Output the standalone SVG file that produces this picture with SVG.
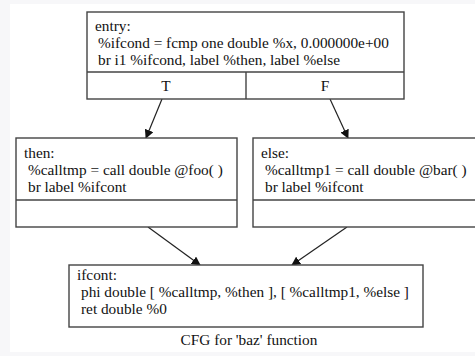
<svg xmlns="http://www.w3.org/2000/svg" width="475" height="356" viewBox="0 0 475 356">
  <style>
    .box { fill: #ffffff; stroke: #444444; stroke-width: 1.4; }
    .sep { stroke: #444444; stroke-width: 1.4; fill: none; }
    .edge { stroke: #222222; stroke-width: 1.2; fill: none; marker-end: url(#arrow); }
    text { font-family: "Liberation Serif", "Times New Roman", serif; font-size: 15.3px; fill: #111111; }
    .mid { text-anchor: middle; }
  </style>
  <defs>
    <marker id="arrow" viewBox="0 0 10 10" refX="9" refY="5" markerWidth="9" markerHeight="9" markerUnits="userSpaceOnUse" orient="auto">
      <path d="M0,0 L10,5 L0,10 Z" fill="#111111"/>
    </marker>
  </defs>

  <!-- page -->
  <rect x="0" y="0" width="475" height="356" fill="#f7f7f9"/>
  <rect x="10" y="4" width="465" height="348" fill="#ffffff"/>

  <!-- connectors -->
  <g id="edges">
    <line class="edge" x1="162" y1="99" x2="146" y2="138"/>
    <line class="edge" x1="330" y1="99" x2="348" y2="138"/>
    <line class="edge" x1="148" y1="227" x2="200" y2="265"/>
    <line class="edge" x1="347" y1="227" x2="292" y2="265"/>
  </g>

  <g id="entry">
    <rect class="box" x="87" y="12" width="317" height="87"/>
    <line class="sep" x1="87" y1="72" x2="404" y2="72"/>
    <line class="sep" x1="246" y1="72" x2="246" y2="99"/>
    <text x="95" y="31">entry:</text>
    <text x="98" y="48">%ifcond = fcmp one double %x, 0.000000e+00</text>
    <text x="98" y="65">br i1 %ifcond, label %then, label %else</text>
    <text class="mid" x="166" y="91">T</text>
    <text class="mid" x="325" y="91">F</text>
  </g>

  <g id="then">
    <rect class="box" x="16" y="138" width="221" height="89"/>
    <line class="sep" x1="16" y1="200" x2="237" y2="200"/>
    <text x="24" y="158">then:</text>
    <text x="28" y="175">%calltmp = call double @foo( )</text>
    <text x="28" y="192">br label %ifcont</text>
  </g>

  <g id="else">
    <rect class="box" x="253" y="138" width="230" height="89"/>
    <line class="sep" x1="253" y1="200" x2="483" y2="200"/>
    <text x="261" y="158">else:</text>
    <text x="265" y="175">%calltmp1 = call double @bar( )</text>
    <text x="265" y="192">br label %ifcont</text>
  </g>

  <g id="ifcont">
    <rect class="box" x="69" y="265" width="354" height="62"/>
    <text x="77" y="280">ifcont:</text>
    <text x="81" y="297">phi double [ %calltmp, %then ], [ %calltmp1, %else ]</text>
    <text x="81" y="314">ret double %0</text>
  </g>

  <text class="mid" x="249" y="345">CFG for 'baz' function</text>
</svg>
